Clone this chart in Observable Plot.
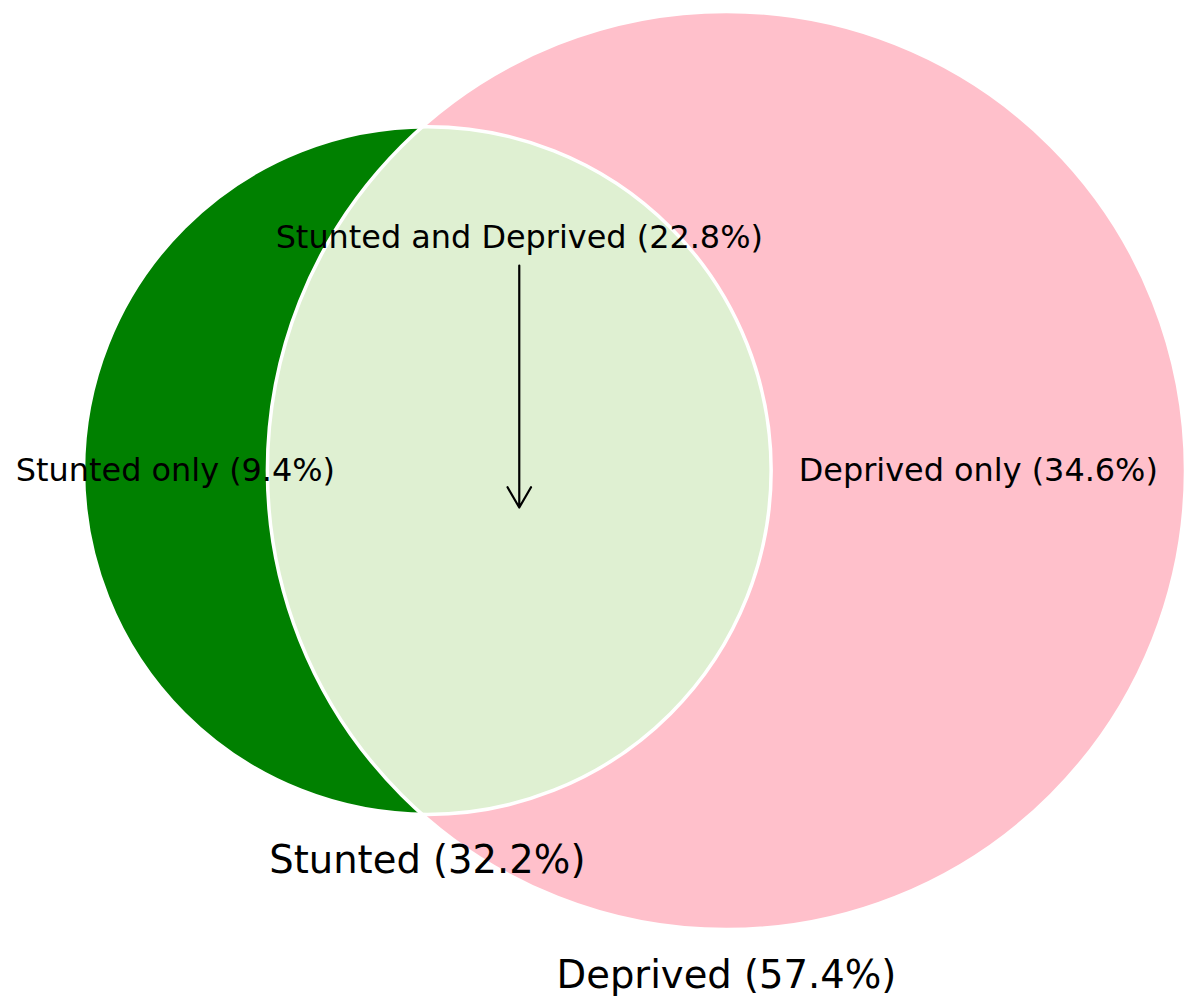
<!DOCTYPE html>
<html>
<head>
<meta charset="utf-8">
<script src="https://cdn.jsdelivr.net/npm/d3@7"></script>
<script src="https://cdn.jsdelivr.net/npm/@observablehq/plot@0.6"></script>
<style>
  html, body { margin: 0; padding: 0; background: #ffffff; }
  svg { display: block; }
</style>
</head>
<body>
<div id="chart"></div>
<script>
// ---- data ----
const setNames = ["Stunted", "Deprived"];
const setShares = [32.2, 57.4];              // % of children in each set
const regionNames = ["Stunted only", "Stunted and Deprived", "Deprived only"];
const regionShares = [9.4, 22.8, 34.6];      // % in each region

// ---- styles ----
const setColors = ["green", "pink"];
const overlapColor = "#dff0d2";
const FONT = "DejaVu Sans";

// ---- geometry derived from the data (area-proportional Venn) ----
const rA = Math.sqrt(setShares[0] / Math.PI);
const rB = Math.sqrt(setShares[1] / Math.PI);
function lensArea(d) {
  const d1 = (d * d + rA * rA - rB * rB) / (2 * d);
  const d2 = d - d1;
  const seg = (r, h) => r * r * Math.acos(h / r) - h * Math.sqrt(r * r - h * h);
  return seg(rA, d1) + seg(rB, d2);
}
let lo = Math.abs(rB - rA), hi = rA + rB;
for (let i = 0; i < 80; i++) {
  const mid = (lo + hi) / 2;
  if (lensArea(mid) > regionShares[1]) lo = mid; else hi = mid;
}
const dist = (lo + hi) / 2;

const circles = [
  {set: setNames[0], share: setShares[0], x: 0, y: 0, r: rA},
  {set: setNames[1], share: setShares[1], x: dist, y: 0, r: rB}
];

// ---- page layout ----
const W = 1185, H = 998;
const padLeft = 83, padTop = 11;
const k = (W - padLeft) / (rA + dist + rB);   // pixels per unit (equal aspect)
const xDomain = [-rA, dist + rB];
const yDomain = [rB - (H - padTop) / k, rB];

// region label positions (midpoints of each region along the centre line)
const regionLabels = [
  {label: `${regionNames[0]} (${regionShares[0]}%)`, x: (-rA + (dist - rB)) / 2, y: 0},
  {label: `${regionNames[2]} (${regionShares[2]}%)`, x: (rA + (dist + rB)) / 2, y: 0}
];
const lensX = ((dist - rB) + rA) / 2;
const annotation = [{
  label: `${regionNames[1]} (${regionShares[1]}%)`,
  x: lensX,
  yText: 233 / k,
  yFrom: 205 / k,
  yTo: -37 / k
}];
const setLabels = circles.map(c => ({label: `${c.set} (${c.share}%)`, x: c.x, y: c.y - c.r}));

const chart = Plot.plot({
  width: W,
  height: H,
  marginLeft: padLeft,
  marginRight: 0,
  marginTop: padTop,
  marginBottom: 0,
  style: {background: "white", fontFamily: FONT, color: "black"},
  x: {domain: xDomain, axis: null},
  y: {domain: yDomain, axis: null},
  r: {type: "linear", domain: [0, 1], range: [0, k]},
  marks: [
    Plot.dot([circles[1]], {x: "x", y: "y", r: "r", fill: setColors[1]}),
    Plot.dot([circles[0]], {x: "x", y: "y", r: "r", fill: setColors[0]}),
    Plot.dot([circles[0]], {x: "x", y: "y", r: "r", fill: overlapColor, ariaDescription: "overlap"}),
    Plot.dot(circles, {x: "x", y: "y", r: "r", fill: "none", stroke: "white", strokeWidth: 3.5}),
    Plot.text(regionLabels, {x: "x", y: "y", text: "label", fontSize: 31.9, fontFamily: FONT, fill: "black"}),
    Plot.text(annotation, {x: "x", y: "yText", text: "label", fontSize: 31.9, fontFamily: FONT, fill: "black"}),
    Plot.arrow(annotation, {x1: "x", y1: "yFrom", x2: "x", y2: "yTo", stroke: "black", strokeWidth: 2.2, headLength: 16, headAngle: 60, bend: 0}),
    Plot.text(setLabels, {x: "x", y: "y", text: "label", fontSize: 38.5, fontFamily: FONT, fill: "black", lineAnchor: "top", dy: 31})
  ]
});

// clip the overlap fill to the Deprived circle
const sx = chart.scale("x"), sy = chart.scale("y"), sr = chart.scale("r");
const ns = "http://www.w3.org/2000/svg";
const defs = document.createElementNS(ns, "defs");
const cp = document.createElementNS(ns, "clipPath");
cp.setAttribute("id", "clip-deprived");
const cc = document.createElementNS(ns, "circle");
cc.setAttribute("cx", sx.apply(circles[1].x));
cc.setAttribute("cy", sy.apply(circles[1].y));
cc.setAttribute("r", sr.apply(circles[1].r));
cp.appendChild(cc);
defs.appendChild(cp);
chart.insertBefore(defs, chart.firstChild);
let overlapG = chart.querySelector('g[aria-description="overlap"]');
if (!overlapG) overlapG = chart.querySelectorAll('g[aria-label="dot"]')[2];
overlapG.setAttribute("clip-path", "url(#clip-deprived)");

document.getElementById("chart").appendChild(chart);
</script>
</body>
</html>
